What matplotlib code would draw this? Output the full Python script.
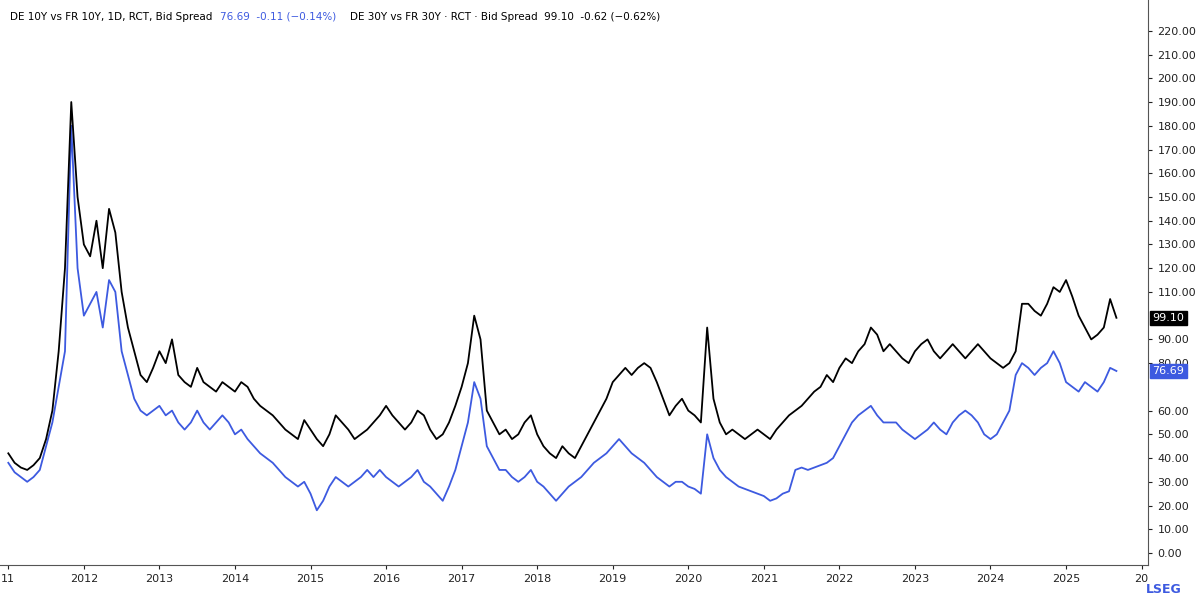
import matplotlib
matplotlib.use("Agg")
import matplotlib.pyplot as plt
import numpy as np

years = list(range(2011, 2026))
black = [
 [42,38,36,35,37,40,48,60,85,120,190,150],
 [130,125,140,120,145,135,110,95,85,75,72,78],
 [85,80,90,75,72,70,78,72,70,68,72,70],
 [68,72,70,65,62,60,58,55,52,50,48,56],
 [52,48,45,50,58,55,52,48,50,52,55,58],
 [62,58,55,52,55,60,58,52,48,50,55,62],
 [70,80,100,90,60,55,50,52,48,50,55,58],
 [50,45,42,40,45,42,40,45,50,55,60,65],
 [72,75,78,75,78,80,78,72,65,58,62,65],
 [60,58,55,95,65,55,50,52,50,48,50,52],
 [50,48,52,55,58,60,62,65,68,70,75,72],
 [78,82,80,85,88,95,92,85,88,85,82,80],
 [85,88,90,85,82,85,88,85,82,85,88,85],
 [82,80,78,80,85,105,105,102,100,105,112,110],
 [115,108,100,95,90,92,95,107,99.10],
]
blue = [
 [38,34,32,30,32,35,45,55,70,85,180,120],
 [100,105,110,95,115,110,85,75,65,60,58,60],
 [62,58,60,55,52,55,60,55,52,55,58,55],
 [50,52,48,45,42,40,38,35,32,30,28,30],
 [25,18,22,28,32,30,28,30,32,35,32,35],
 [32,30,28,30,32,35,30,28,25,22,28,35],
 [45,55,72,65,45,40,35,35,32,30,32,35],
 [30,28,25,22,25,28,30,32,35,38,40,42],
 [45,48,45,42,40,38,35,32,30,28,30,30],
 [28,27,25,50,40,35,32,30,28,27,26,25],
 [24,22,23,25,26,35,36,35,36,37,38,40],
 [45,50,55,58,60,62,58,55,55,55,52,50],
 [48,50,52,55,52,50,55,58,60,58,55,50],
 [48,50,55,60,75,80,78,75,78,80,85,80],
 [72,70,68,72,70,68,72,78,76.69],
]

def flat(rows):
    t, v = [], []
    for y, r in zip(years, rows):
        for m, val in enumerate(r):
            t.append(y + m/12); v.append(val)
    return np.array(t), np.array(v)

tb, vb = flat(black)
tl, vl = flat(blue)
BLUE = "#3d5ae0"

fig = plt.figure(figsize=(12, 6.03), dpi=100)
ax = fig.add_axes([0, 0.063, 0.957, 0.937])
ax.plot(tl, vl, color=BLUE, lw=1.3)
ax.plot(tb, vb, color="black", lw=1.3)
ax.set_xlim(2010.89, 2026.09)
ax.set_ylim(-5.06, 233)
ax.yaxis.tick_right()
yt = [v for v in range(0, 221, 10) if v not in (70, 100)]
ax.set_yticks(yt)
ax.set_yticklabels([f"{v:.2f}" for v in yt], fontsize=8)
xt = list(range(2011, 2027))
ax.set_xticks(xt)
ax.set_xticklabels(["11" if y == 2011 else "20" if y == 2026 else str(y) for y in xt], fontsize=8)
ax.tick_params(length=3, colors="#222222")
for s in ["top", "left"]:
    ax.spines[s].set_visible(False)
for s in ["right", "bottom"]:
    ax.spines[s].set_color("#555555")
for val, col in [(vb[-1], "black"), (vl[-1], BLUE)]:
    ax.annotate(f"{val:.2f}", xy=(1.0, val), xycoords=("axes fraction", "data"),
                xytext=(3, 0), textcoords="offset points", va="center", ha="left",
                fontsize=8, color="white",
                bbox=dict(boxstyle="square,pad=0.2", fc=col, ec=col))
t1 = fig.text(0.008, 0.972, "DE 10Y vs FR 10Y, 1D, RCT, Bid Spread", fontsize=7.5, va="center")
t2 = fig.text(0, 0, "76.69  -0.11 (\u22120.14%)", fontsize=7.5, va="center", color=BLUE)
fig.canvas.draw()
r = fig.canvas.get_renderer()
def right_of(t, gap):
    bb = t.get_window_extent(r)
    return (bb.x1 + gap) / fig.bbox.width
t2.set_position((right_of(t1, 8), 0.972))
fig.canvas.draw()
fig.text(right_of(t2, 14), 0.972, "DE 30Y vs FR 30Y \u00b7 RCT \u00b7 Bid Spread  99.10  -0.62 (\u22120.62%)", fontsize=7.5, va="center")
fig.text(0.985, 0.012, "LSEG", fontsize=9, fontweight="bold", color=BLUE, ha="right", va="bottom")
fig.savefig("out.png", dpi=100, facecolor="white")
